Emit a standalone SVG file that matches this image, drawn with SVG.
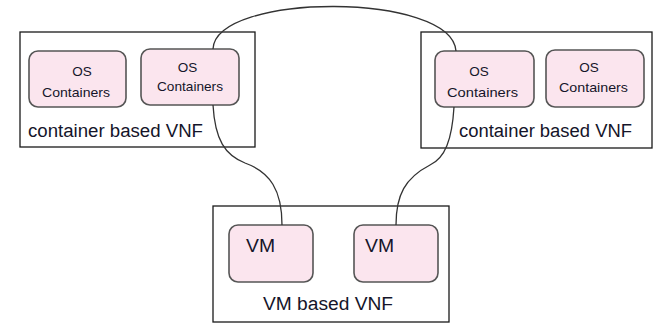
<svg xmlns="http://www.w3.org/2000/svg" width="654" height="323" viewBox="0 0 654 323">
  <style>
    .frame { fill: #ffffff; stroke: #1a1a1a; stroke-width: 1.3; }
    .unit { fill: #fbe5ee; stroke: #555555; stroke-width: 1.6; }
    .link { fill: none; stroke: #333333; stroke-width: 1.3; }
    text { font-family: "Liberation Sans", Arial, sans-serif; fill: #15152a; }
    .small { font-size: 13.5px; text-anchor: middle; }
    .label { font-size: 18px; }
    .vm { font-size: 19px; }
  </style>

  <!-- left VNF -->
  <g id="vnf-left">
    <rect class="frame" x="20" y="32" width="235" height="115"/>
    <text class="label" x="28" y="137" textLength="175" lengthAdjust="spacingAndGlyphs">container based VNF</text>
  </g>
  <g id="os-left-1">
    <rect class="unit" x="29" y="51" width="97" height="56" rx="9"/>
    <text class="small" x="82" y="76">OS</text>
    <text class="small" x="76" y="97" textLength="68" lengthAdjust="spacingAndGlyphs">Containers</text>
  </g>
  <g id="os-left-2">
    <rect class="unit" x="141" y="49" width="98" height="56" rx="9"/>
    <text class="small" x="187.5" y="72">OS</text>
    <text class="small" x="190" y="91" textLength="66" lengthAdjust="spacingAndGlyphs">Containers</text>
  </g>

  <!-- right VNF -->
  <g id="vnf-right">
    <rect class="frame" x="421" y="32" width="231" height="116"/>
    <text class="label" x="459" y="137" textLength="173" lengthAdjust="spacingAndGlyphs">container based VNF</text>
  </g>
  <g id="os-right-1">
    <rect class="unit" x="435" y="51" width="99" height="56" rx="9"/>
    <text class="small" x="479" y="76">OS</text>
    <text class="small" x="482.5" y="97" textLength="71" lengthAdjust="spacingAndGlyphs">Containers</text>
  </g>
  <g id="os-right-2">
    <rect class="unit" x="546" y="50" width="98" height="57" rx="9"/>
    <text class="small" x="589" y="72">OS</text>
    <text class="small" x="593.5" y="92" textLength="69" lengthAdjust="spacingAndGlyphs">Containers</text>
  </g>

  <!-- VM VNF -->
  <g id="vnf-vm">
    <rect class="frame" x="213" y="206" width="236" height="116"/>
    <text class="label" x="263" y="310" textLength="130" lengthAdjust="spacingAndGlyphs">VM based VNF</text>
  </g>
  <g id="vm-1">
    <rect class="unit" x="229" y="225" width="84" height="57" rx="9"/>
    <text class="vm" x="246" y="252" textLength="29" lengthAdjust="spacingAndGlyphs">VM</text>
  </g>
  <g id="vm-2">
    <rect class="unit" x="354" y="225" width="84" height="57" rx="9"/>
    <text class="vm" x="365" y="252" textLength="29" lengthAdjust="spacingAndGlyphs">VM</text>
  </g>

  <!-- connectors -->
  <g id="links">
    <path class="link" d="M213,49 C216,-8 452,-8 456,51"/>
    <path class="link" d="M213,105 C215,140 225,155 245,163 C270,172 282,190 282,225"/>
    <path class="link" d="M454,107 C452,140 445,158 430,165 C405,178 396,195 396,225"/>
  </g>
</svg>
